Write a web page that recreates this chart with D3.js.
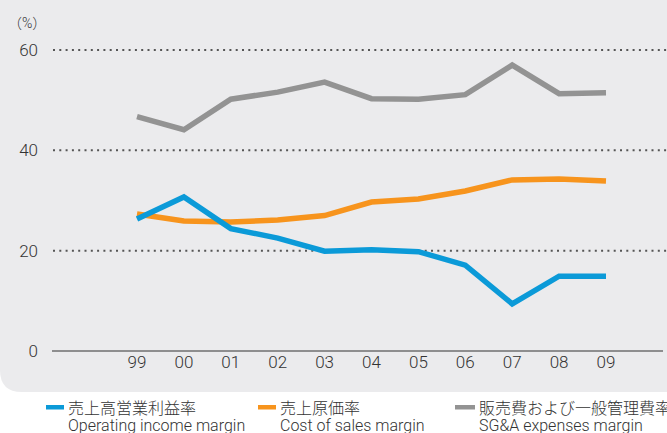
<!DOCTYPE html>
<html>
<head>
<meta charset="utf-8">
<script src="https://cdn.jsdelivr.net/npm/d3@7"></script>
<style>
  html, body { margin: 0; padding: 0; background: #fff; }
  svg text { font-family: "Roboto", "Noto Sans CJK JP", sans-serif; font-weight: 300; fill: #333; }
</style>
</head>
<body>
<div id="chart"></div>
<script>
var years = ["99", "00", "01", "02", "03", "04", "05", "06", "07", "08", "09"];
var operatingMargin = [26.3, 30.7, 24.4, 22.5, 19.9, 20.2, 19.8, 17.1, 9.4, 14.9, 14.9];
var costOfSales = [27.3, 25.9, 25.7, 26.1, 27.0, 29.7, 30.3, 31.9, 34.1, 34.3, 33.9];
var sgaMargin = [46.7, 44.1, 50.2, 51.6, 53.6, 50.3, 50.2, 51.1, 57.0, 51.3, 51.5];
var yTicks = [0, 20, 40, 60];

var seriesNames = [
    { ja: "売上高営業利益率", en: "Operating income margin", color: "#0b9ad8", values: operatingMargin },
    { ja: "売上原価率", en: "Cost of sales margin", color: "#f7941d", values: costOfSales },
    { ja: "販売費および一般管理費率", en: "SG&A expenses margin", color: "#939393", values: sgaMargin }
];

var width = 667;
var height = 433;

var svg = d3.select("#chart")
    .append("svg")
    .attr("width", width)
    .attr("height", height);

// grey panel with rounded bottom-left corner
svg.append("path")
    .attr("d", "M0,0 H" + width + " V392 H22 Q0,392 0,370 Z")
    .attr("fill", "#ebebed");

var x = d3.scalePoint()
    .domain(years)
    .range([137, 606]);

var y = d3.scaleLinear()
    .domain([0, 60])
    .range([351, 50]);

// dotted grid lines
svg.selectAll(".grid")
    .data(yTicks.filter(d => d > 0))
    .enter()
    .append("line")
    .attr("x1", 53)
    .attr("x2", width)
    .attr("y1", d => y(d))
    .attr("y2", d => y(d))
    .attr("stroke", "#555")
    .attr("stroke-width", 2)
    .attr("stroke-dasharray", "2,4.3");

// zero axis
svg.append("line")
    .attr("x1", 52)
    .attr("x2", 663)
    .attr("y1", y(0))
    .attr("y2", y(0))
    .attr("stroke", "#333")
    .attr("stroke-width", 1.2);

svg.selectAll(".ylab")
    .data(yTicks)
    .enter()
    .append("text")
    .attr("x", 38)
    .attr("y", d => y(d))
    .attr("dy", "0.35em")
    .attr("text-anchor", "end")
    .style("font-size", "17px")
    .text(d => d);

svg.append("text")
    .attr("x", 8)
    .attr("y", 23)
    .attr("dy", "0.35em")
    .style("font-size", "14px")
    .text("（%）");

svg.selectAll(".xlab")
    .data(years)
    .enter()
    .append("text")
    .attr("x", d => x(d))
    .attr("y", 362)
    .attr("dy", "0.35em")
    .attr("text-anchor", "middle")
    .style("font-size", "17px")
    .text(d => d);

var line = d3.line()
    .x((d, i) => x(years[i]))
    .y(d => y(d));

svg.selectAll(".series")
    .data(seriesNames.slice().reverse())
    .enter()
    .append("path")
    .attr("d", d => line(d.values))
    .attr("fill", "none")
    .attr("stroke", d => d.color)
    .attr("stroke-width", 5.5)
    .attr("stroke-linejoin", "miter");

// legend
var legendX = [46, 258, 455];
var legendSwatch = [18, 18, 20];

var lg = svg.selectAll(".legend")
    .data(seriesNames)
    .enter()
    .append("g")
    .attr("transform", (d, i) => "translate(" + legendX[i] + ",0)");

lg.append("rect")
    .attr("x", 0)
    .attr("y", 405)
    .attr("width", (d, i) => legendSwatch[i])
    .attr("height", 4.5)
    .attr("fill", d => d.color);

lg.append("text")
    .attr("x", (d, i) => legendSwatch[i] + 4)
    .attr("y", 408)
    .attr("dy", "0.35em")
    .style("font-size", "16px")
    .text(d => d.ja);

lg.append("text")
    .attr("x", (d, i) => legendSwatch[i] + 4)
    .attr("y", 431)
    .style("font-size", "16px")
    .text(d => d.en);
</script>
</body>
</html>
